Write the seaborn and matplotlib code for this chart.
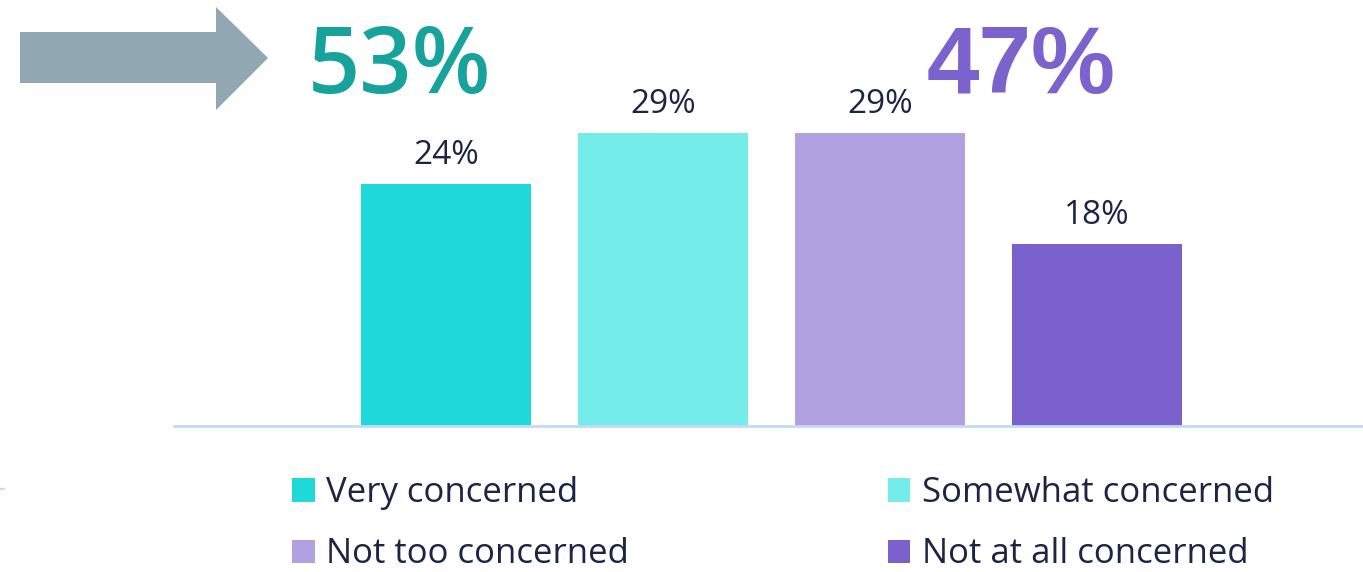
import matplotlib
matplotlib.use("Agg")
import matplotlib.pyplot as plt
from matplotlib.patches import Patch, Polygon
from matplotlib.lines import Line2D
import seaborn as sns
import pandas as pd

# данные
categories = ["Very concerned", "Somewhat concerned", "Not too concerned", "Not at all concerned"]
values = [24, 29, 29, 18]
colors = ["#1fd8d8", "#74ecea", "#b1a1e1", "#7b61cc"]
totals = ["53%", "47%"]
total_colors = ["#17a39c", "#7b62cc"]

TEXT = "#1b2545"
W, H = 1363, 572

sns.set_theme(style="white")
plt.rcParams["font.family"] = ["Open Sans", "DejaVu Sans"]

fig = plt.figure(figsize=(W / 100, H / 100), dpi=100)
ax = fig.add_axes([174 / W, (H - 426) / H, 1 - 174 / W, 426 / H])

df = pd.DataFrame({"cat": categories, "val": values})
sns.barplot(data=df, x="cat", y="val", hue="cat", palette=colors,
            width=0.785, saturation=1, legend=False, linewidth=0, ax=ax)

ax.set_xlim(-1.253, 4.226)
ax.set_ylim(0, 426 / 10.1)
ax.set_xlabel("")
ax.set_ylabel("")
ax.set_xticks([])
ax.set_yticks([])
for s in ["top", "left", "right"]:
    ax.spines[s].set_visible(False)
ax.spines["bottom"].set_color("#c2dafc")
ax.spines["bottom"].set_linewidth(2)

for i, v in enumerate(values):
    ax.annotate(f"{v}%", (i, v), xytext=(0, 14.4), textcoords="offset points",
                ha="center", va="baseline", fontsize=24, color=TEXT)

# большие итоги
def fx(px):
    return px / W

def fy(py):
    return 1 - py / H

fig.text(fx(308), fy(93), totals[0], fontsize=66, fontweight="semibold",
         color=total_colors[0], ha="left", va="baseline")
fig.text(fx(927), fy(93), totals[1], fontsize=68, fontweight="bold",
         family=["Liberation Sans", "DejaVu Sans"],
         color=total_colors[1], ha="left", va="baseline")

# стрелка
arrow_px = [(20, 32), (216, 32), (216, 7), (268, 58), (216, 110), (216, 83), (20, 83)]
fig.patches.append(Polygon([(fx(x), fy(y)) for x, y in arrow_px], closed=True,
                           transform=fig.transFigure, facecolor="#91a7b1",
                           edgecolor="none"))

fig.lines.append(Line2D([0, fx(4)], [fy(489), fy(489)], transform=fig.transFigure,
                        color="#c2dafc", lw=1.5))

# легенда: заполняется по столбцам, поэтому порядок 0, 2, 1, 3
order = [0, 2, 1, 3]
handles = [Patch(facecolor=colors[i], edgecolor="none") for i in order]
labels = [categories[i] for i in order]
leg = fig.legend(handles, labels, loc="upper left",
                 bbox_to_anchor=(fx(292), fy(476)), ncol=2, frameon=False,
                 fontsize=25, handlelength=0.66, handleheight=0.66,
                 handletextpad=0.32, columnspacing=7.45, labelspacing=0.79,
                 borderpad=0, borderaxespad=0)
for t in leg.get_texts():
    t.set_color(TEXT)

fig.savefig("out.png", dpi=100)
